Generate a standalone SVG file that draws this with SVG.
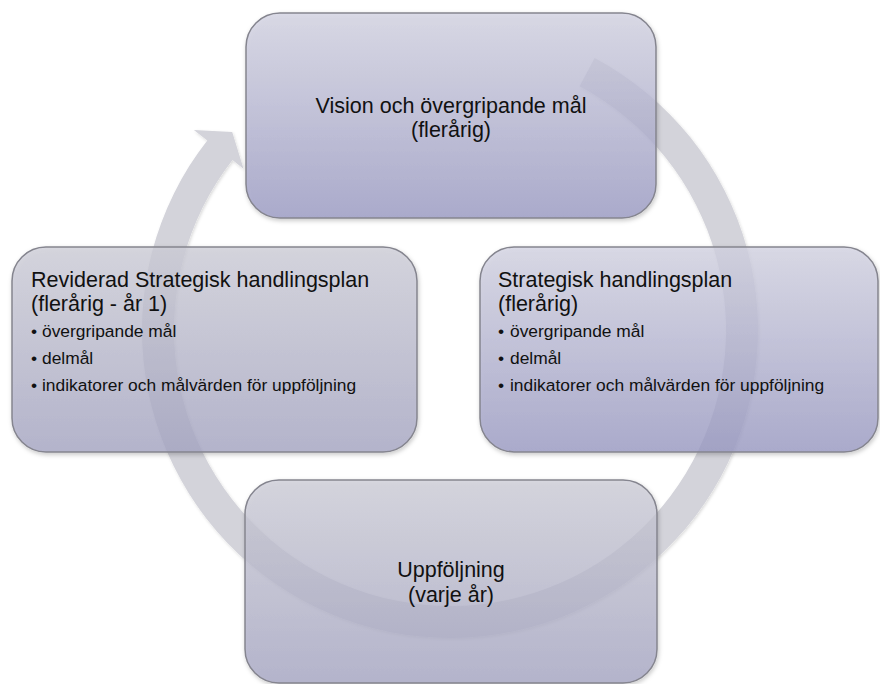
<svg xmlns="http://www.w3.org/2000/svg" width="880" height="684" viewBox="0 0 880 684">
  <defs>
    <linearGradient id="gA" x1="0" y1="0" x2="0" y2="1">
      <stop offset="0" stop-color="#d4d4e3"/>
      <stop offset="1" stop-color="#9a9ac4"/>
    </linearGradient>
    <linearGradient id="gB" x1="0" y1="0" x2="0" y2="1">
      <stop offset="0" stop-color="#cfcfd9"/>
      <stop offset="1" stop-color="#a6a6c4"/>
    </linearGradient>
    <filter id="sh" x="-5%" y="-5%" width="110%" height="115%">
      <feDropShadow dx="1" dy="2" stdDeviation="2" flood-color="#000" flood-opacity="0.25"/>
    </filter>
    <filter id="rsh" x="-5%" y="-5%" width="110%" height="110%">
      <feDropShadow dx="1" dy="1.5" stdDeviation="1.5" flood-color="#000" flood-opacity="0.15"/>
    </filter>
  </defs>
  <style>
    .box { stroke: #85858f; stroke-width: 1.5; fill-opacity: 0.76; filter: url(#sh); }
    .a { fill: url(#gA); }
    .b { fill: url(#gB); }
    .t { font-family: "Liberation Sans", Arial, sans-serif; font-size: 21.5px; fill: #111; }
    .s { font-family: "Liberation Sans", Arial, sans-serif; font-size: 17.4px; fill: #111; }
    .c { text-anchor: middle; }
  </style>
  <rect width="880" height="684" fill="#fff"/>
  <g id="connectors">
    <path d="M 594.6 58.1 A 308 308 0 1 1 207.3 140.4 L 193.9 129.9 L 232.2 132.0 L 243.5 168.7 L 232.5 160.1 A 276 276 0 1 0 579.6 86.3 Z" fill="#d3d3da" filter="url(#rsh)"/>
  </g>
  <g id="node-vision">
    <rect class="box a" x="246" y="13" width="410" height="205" rx="34"/>
    <text class="t c" x="451" y="113">Vision och övergripande mål</text>
    <text class="t c" x="451" y="137">(flerårig)</text>
  </g>
  <g id="node-strategisk">
    <rect class="box a" x="480" y="247" width="398" height="205" rx="34"/>
    <text class="t" x="498" y="287">Strategisk handlingsplan</text>
    <text class="t" x="498" y="311">(flerårig)</text>
    <text class="s" x="498" y="337">• <tspan x="510">övergripande mål</tspan></text>
    <text class="s" x="498" y="364">• <tspan x="510">delmål</tspan></text>
    <text class="s" x="498" y="391">• <tspan x="510">indikatorer och målvärden för uppföljning</tspan></text>
  </g>
  <g id="node-uppfoljning">
    <rect class="box b" x="245" y="480" width="412" height="203" rx="34"/>
    <text class="t c" x="451" y="577">Uppföljning</text>
    <text class="t c" x="451" y="602">(varje år)</text>
  </g>
  <g id="node-reviderad">
    <rect class="box b" x="12" y="247" width="405" height="205" rx="34"/>
    <text class="t" x="31" y="287">Reviderad Strategisk handlingsplan</text>
    <text class="t" x="31" y="311">(flerårig - år 1)</text>
    <text class="s" x="31" y="337">• <tspan x="42">övergripande mål</tspan></text>
    <text class="s" x="31" y="364">• <tspan x="42">delmål</tspan></text>
    <text class="s" x="31" y="391">• <tspan x="42">indikatorer och målvärden för uppföljning</tspan></text>
  </g>
</svg>
